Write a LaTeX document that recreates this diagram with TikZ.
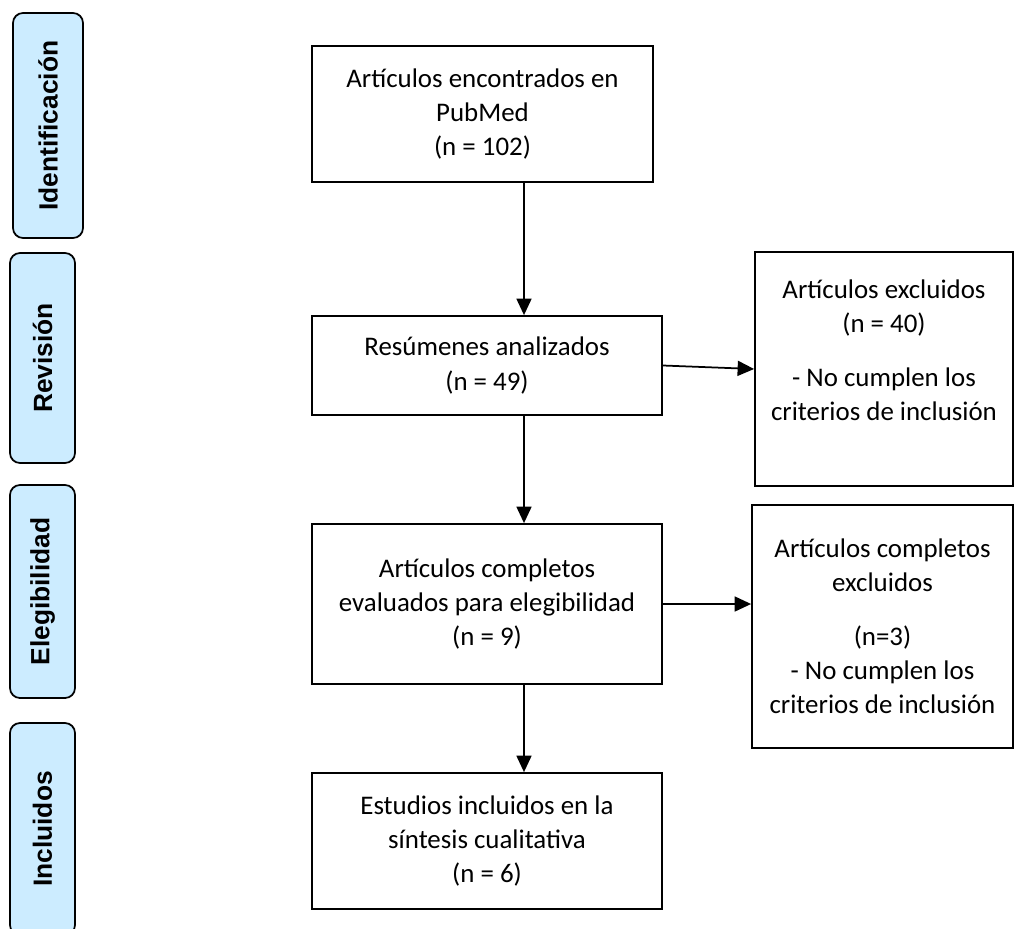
\documentclass[tikz,border=0pt]{standalone}
\usepackage{fontspec}
\setmainfont{Carlito}
\newfontfamily\labelfont{Liberation Sans}
\usetikzlibrary{arrows.meta, positioning}
\definecolor{phaseblue}{HTML}{CCECFF}
\tikzset{
  every picture/.style={line width=0.35mm},
  box/.style={draw=black, rectangle, align=center, inner sep=0pt, font=\fontsize{15.3}{19.5}\selectfont},
  phase/.style={draw=black, fill=phaseblue, rounded corners=2mm, rotate=90, inner sep=0pt, font=\labelfont\bfseries\fontsize{15}{18}\selectfont},
  arrow/.style={-{Triangle[length=3.3mm, width=3mm]}, draw=black},
}

\begin{document}
\begin{tikzpicture}[x=0.2mm, y=-0.2mm]
  \useasboundingbox (0,0) rectangle (1014,929);
  \clip (0,0) rectangle (1014,929);
  \node[phase, minimum width=45mm, minimum height=14mm] (ident) at (48,125.5) {Identificación};
  \node[phase, minimum width=42mm, minimum height=13mm] (revis) at (42.5,358) {Revisión};
  \node[phase, minimum width=42.6mm, minimum height=13mm] (elegib) at (42.5,591.5) {Elegibilidad};
  \node[phase, minimum width=42.4mm, minimum height=13mm] (inclu) at (42.5,829) {Incluidos};
  \node[box, minimum width=68.2mm, minimum height=27.2mm] (found) at (482.5,114) {Artículos encontrados en\\PubMed\\(n = 102)};
  \node[box, minimum width=70mm, minimum height=19.8mm] (screen) at (487,365.5) {Resúmenes analizados\\(n = 49)};
  \node[box, minimum width=70mm, minimum height=32mm] (full) at (487,604) {Artículos completos\\evaluados para elegibilidad\\(n = 9)};
  \node[box, minimum width=70mm, minimum height=27.2mm] (incl) at (487,841) {Estudios incluidos en la\\síntesis cualitativa\\(n = 6)};
  \node[box, minimum width=51.6mm, minimum height=46.8mm] (excl) at (884,369) {Artículos excluidos\\(n = 40)\\[11pt]- No cumplen los\\criterios de inclusión\\[2pt]\mbox{}};
  \node[box, minimum width=52.2mm, minimum height=48.6mm] (fullexcl) at (882.5,626.5) {Artículos completos\\excluidos\\[11pt](n=3)\\- No cumplen los\\criterios de inclusión};
  \coordinate (spine) at (524,0);
  \draw[arrow] (found.south -| spine) -- (screen.north -| spine);
  \draw[arrow] (screen.south -| spine) -- (full.north -| spine);
  \draw[arrow] (full.south -| spine) -- (incl.north -| spine);
  \draw[arrow] (screen.east) -- (excl.west);
  \draw[arrow] (full.east) -- (full.east -| fullexcl.west);
\end{tikzpicture}
\end{document}
